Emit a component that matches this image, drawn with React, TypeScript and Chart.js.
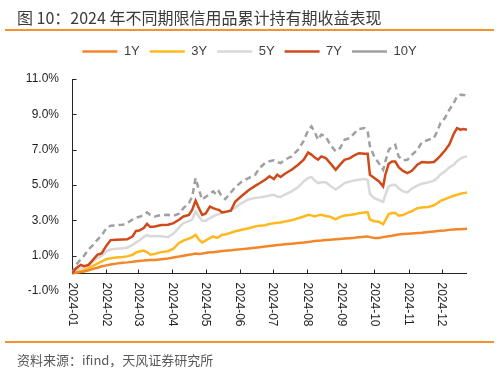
import React, { useEffect, useRef } from "react";
import { Chart, registerables } from "chart.js";

Chart.register(...registerables);

// Day offsets from 2024-01-01
const days = [
  0, 4, 8, 11, 15, 19, 23, 27, 31, 35,
  40, 46, 50, 55, 58, 61, 65, 68, 71, 75,
  81, 87, 92, 97, 101, 106, 109, 112, 115, 118,
  121, 125, 128, 131, 133, 136, 139, 144, 148, 154,
  160, 166, 170, 175, 179, 183, 186, 189, 193, 199,
  205, 210, 214, 217, 220, 223, 226, 230, 234, 239,
  243, 247, 252, 256, 260, 265, 268, 270, 274, 278,
  282, 284, 287, 290, 293, 296, 300, 304, 308, 313,
  317, 323, 328, 331, 334, 338, 342, 346, 349, 352,
  355, 358,
];

const y1 = [
  0, 0.04, 0.08, 0.1, 0.17, 0.25, 0.32, 0.4, 0.45, 0.5,
  0.55, 0.6, 0.62, 0.66, 0.68, 0.7, 0.72, 0.74, 0.75, 0.76,
  0.8, 0.84, 0.9, 0.95, 1.0, 1.05, 1.08, 1.12, 1.1, 1.12,
  1.15, 1.19, 1.2, 1.22, 1.24, 1.26, 1.28, 1.3, 1.33, 1.37,
  1.41, 1.45, 1.48, 1.52, 1.55, 1.58, 1.6, 1.62, 1.65, 1.68,
  1.72, 1.75, 1.78, 1.8, 1.83, 1.85, 1.86, 1.88, 1.9, 1.93,
  1.95, 1.97, 1.99, 2.01, 2.04, 2.07, 2.09, 2.05, 2.0, 2.0,
  2.05, 2.07, 2.1, 2.13, 2.17, 2.2, 2.22, 2.24, 2.26, 2.28,
  2.3, 2.34, 2.37, 2.39, 2.41, 2.43, 2.46, 2.48, 2.49, 2.5,
  2.51, 2.52,
];

const y3 = [
  0, 0.05, 0.12, 0.18, 0.3, 0.42, 0.55, 0.67, 0.8, 0.85,
  0.9, 0.93, 0.96, 1.05, 1.18, 1.24, 1.29, 1.2, 1.05, 1.1,
  1.2, 1.25, 1.4, 1.72, 1.85, 1.97, 2.05, 2.18, 1.9, 1.75,
  1.85, 2.0, 2.09, 2.0, 2.05, 2.18, 2.2, 2.3, 2.38, 2.47,
  2.55, 2.65, 2.7, 2.72, 2.8, 2.84, 2.86, 2.88, 2.93, 3.0,
  3.12, 3.22, 3.31, 3.28, 3.22, 3.28, 3.31, 3.25, 3.2, 3.06,
  3.2, 3.27, 3.3, 3.35, 3.4, 3.44, 3.45, 3.05, 2.95, 2.92,
  2.78, 3.0, 3.35, 3.41, 3.41, 3.26, 3.3, 3.42, 3.52, 3.69,
  3.72, 3.76, 3.85, 3.97, 4.1, 4.2, 4.3, 4.39, 4.45, 4.5,
  4.54, 4.58,
];

const y5 = [
  0, 0.15, 0.3, 0.35, 0.48, 0.65, 0.86, 1.0, 1.25, 1.35,
  1.39, 1.42, 1.45, 1.61, 1.75, 1.86, 2.05, 2.18, 2.09, 2.12,
  2.1, 2.05, 2.25, 2.6, 2.84, 2.95, 3.05, 3.5, 3.22, 2.98,
  2.98, 3.12, 3.22, 3.31, 3.35, 3.41, 3.45, 3.58, 3.72, 3.98,
  4.18, 4.27, 4.3, 4.35, 4.4, 4.45, 4.35, 4.32, 4.45, 4.64,
  4.88, 5.2, 5.4, 5.45, 5.25, 5.11, 5.15, 5.15, 4.96, 4.75,
  4.92, 5.11, 5.2, 5.26, 5.3, 5.34, 5.3, 4.5, 4.26, 4.15,
  4.05, 4.45, 4.92, 5.0, 5.01, 4.82, 4.64, 4.58, 4.8, 4.96,
  5.07, 5.15, 5.25, 5.39, 5.6, 5.77, 6.0, 6.14, 6.35, 6.5,
  6.58, 6.62,
];

const y7 = [
  0, 0.3, 0.48, 0.4, 0.48, 0.76, 1.05, 1.14, 1.55, 1.88,
  1.9, 1.92, 1.93, 2.1, 2.4, 2.42, 2.56, 2.8, 2.62, 2.65,
  2.73, 2.75, 2.84, 3.03, 3.22, 3.31, 3.6, 4.12, 3.69, 3.31,
  3.38, 3.78, 3.69, 3.62, 3.6, 3.45, 3.48, 3.55, 4.07, 4.39,
  4.7, 4.95, 5.1, 5.3, 5.5, 5.34, 5.58, 5.45, 5.64, 5.86,
  6.15, 6.43, 6.84, 6.72, 6.55, 6.43, 6.62, 6.52, 6.24, 5.86,
  6.15, 6.43, 6.52, 6.68, 6.8, 6.77, 6.77, 5.58, 5.4, 5.21,
  4.92, 5.58, 6.2, 6.33, 6.33, 6.01, 5.8, 5.67, 5.8, 6.15,
  6.3, 6.28, 6.3, 6.47, 6.66, 6.95, 7.3, 7.9, 8.22, 8.13,
  8.17, 8.13,
];

const y10 = [
  0, 0.5, 0.8, 1.0, 1.35, 1.6, 1.9, 2.15, 2.55, 2.7,
  2.72, 2.75, 2.85, 3.05, 3.15, 3.2, 3.3, 3.45, 3.3, 3.22,
  3.3, 3.31, 3.26, 3.37, 3.69, 3.98, 4.35, 5.39, 4.73, 4.17,
  4.32, 4.5, 4.64, 4.45, 4.64, 4.32, 4.2, 4.58, 4.88, 5.2,
  5.39, 5.58, 5.96, 6.24, 6.35, 6.4, 6.3, 6.24, 6.43, 6.62,
  7.0, 7.5, 8.1, 8.32, 8.0, 7.56, 7.85, 7.75, 7.28, 6.9,
  7.09, 7.56, 7.66, 7.94, 8.17, 8.22, 8.05, 7.2, 6.6, 6.24,
  5.86, 6.33, 6.99, 7.18, 7.28, 6.62, 6.39, 6.43, 6.71, 6.99,
  7.41, 7.56, 7.66, 8.03, 8.51, 8.79, 9.26, 9.64, 10.02, 10.11,
  10.1, 10.05,
];

const seriesNames = ["1Y", "3Y", "5Y", "7Y", "10Y"];
const seriesValues = [y1, y3, y5, y7, y10];
const seriesColors = ["#F4862A", "#FFB81E", "#D9D9D9", "#CF4A1A", "#A0A0A0"];

const monthTickDays = [0, 31, 60, 91, 121, 152, 182, 213, 244, 274, 305, 335];
const monthTickLabels = [
  "2024-01", "2024-02", "2024-03", "2024-04", "2024-05", "2024-06",
  "2024-07", "2024-08", "2024-09", "2024-10", "2024-11", "2024-12",
];

const yMin = -1;
const yMax = 11;
const yStep = 2;

const TITLE = "图 10：2024 年不同期限信用品累计持有期收益表现";
const SOURCE = "资料来源：ifind，天风证券研究所";

const LATIN = "'Liberation Sans', Arial, sans-serif";
const CJK = "'Noto Sans CJK SC', 'Liberation Sans', sans-serif";

const axisPlugin = {
  id: "customAxes",
  beforeInit(chart: any) {
    const legend = chart.legend;
    if (legend) {
      const origFit = legend.fit;
      legend.fit = function () {
        origFit.call(this);
        this.height += 11;
      };
    }
  },
  beforeDatasetsDraw(chart: any) {
    const { ctx, chartArea, scales } = chart;
    const xs = scales.x;
    const ys = scales.y;
    const y0 = Math.round(ys.getPixelForValue(0)) + 0.5;
    const left = Math.round(chartArea.left) + 0.5;
    ctx.save();
    ctx.strokeStyle = "#262626";
    ctx.lineWidth = 1;
    ctx.beginPath();
    ctx.moveTo(left, chartArea.top);
    ctx.lineTo(left, y0);
    ctx.moveTo(chartArea.left, y0);
    ctx.lineTo(chartArea.right, y0);
    ys.ticks.forEach((t: any) => {
      if (t.value < 0) return;
      const py = Math.round(ys.getPixelForValue(t.value)) + 0.5;
      ctx.moveTo(left, py);
      ctx.lineTo(left + 4, py);
    });
    monthTickDays.forEach((d) => {
      const px = Math.round(xs.getPixelForValue(d)) + 0.5;
      ctx.moveTo(px, y0);
      ctx.lineTo(px, y0 - 4);
    });
    ctx.stroke();

    ctx.fillStyle = "#1f1f1f";
    ctx.font = `12px ${LATIN}`;
    ctx.textAlign = "left";
    ctx.textBaseline = "middle";
    monthTickDays.forEach((d, i) => {
      const px = xs.getPixelForValue(d);
      ctx.save();
      ctx.translate(px, y0 + 9);
      ctx.rotate(Math.PI / 2);
      ctx.fillText(monthTickLabels[i], 0, 0);
      ctx.restore();
    });
    ctx.restore();
  },
};

export default function App() {
  const canvasRef = useRef<HTMLCanvasElement | null>(null);

  useEffect(() => {
    const canvas = canvasRef.current;
    if (!canvas) return;
    const datasets = seriesNames.map((name, si) => ({
      label: name,
      data: days.map((d, i) => ({ x: d, y: seriesValues[si][i] })),
      borderColor: seriesColors[si],
      backgroundColor: seriesColors[si],
      borderWidth: 2.5,
      borderDash: name === "10Y" ? [6, 4] : [],
      pointRadius: 0,
      tension: 0,
      fill: false,
      order: name === "10Y" ? 5 : name === "7Y" ? 1 : name === "5Y" ? 4 : name === "3Y" ? 3 : 2,
    }));

    const chart = new Chart(canvas, {
      type: "line",
      data: { datasets },
      options: {
        responsive: false,
        animation: false,
        layout: { padding: { left: 0, right: 0, top: 35, bottom: 81 } },
        plugins: {
          legend: {
            display: true,
            position: "top",
            labels: {
              usePointStyle: true,
              pointStyle: "line",
              pointStyleWidth: 35,
              padding: 10,
              color: "#404040",
              font: { family: LATIN, size: 13 },
              sort: (a: any, b: any) => a.datasetIndex - b.datasetIndex,
            },
          },
          tooltip: { enabled: false },
        },
        scales: {
          x: {
            type: "linear",
            display: false,
            min: 0,
            max: 358,
          },
          y: {
            type: "linear",
            position: "left",
            min: yMin,
            max: yMax,
            grid: { display: false, drawTicks: false },
            border: { display: false },
            ticks: {
              stepSize: yStep,
              padding: 13,
              color: "#1f1f1f",
              font: { family: LATIN, size: 12 },
              callback: (v: any) => Number(v).toFixed(1) + "%",
            },
            afterFit: (s: any) => {
              s.width = 72;
            },
          },
          yR: {
            type: "linear",
            position: "right",
            display: true,
            grid: { display: false, drawTicks: false },
            border: { display: false },
            ticks: { display: false },
            afterFit: (s: any) => {
              s.width = 32;
            },
          },
        },
      },
      plugins: [axisPlugin],
    } as any);

    return () => {
      chart.destroy();
    };
  }, []);

  return (
    <div
      style={{
        position: "absolute",
        left: 0,
        top: 0,
        width: 499,
        height: 372,
        background: "#ffffff",
        overflow: "hidden",
      }}
    >
      <canvas
        ref={canvasRef}
        width={499}
        height={372}
        style={{ position: "absolute", left: 0, top: 0, width: 499, height: 372 }}
      />
      <div
        style={{
          position: "absolute",
          left: 17,
          top: 6,
          fontFamily: CJK,
          fontSize: 16,
          fontWeight: 400,
          color: "#3a3a3a",
          lineHeight: "22px",
          whiteSpace: "nowrap",
        }}
      >
        {TITLE}
      </div>
      <div
        style={{
          position: "absolute",
          left: 5,
          top: 29,
          width: 489,
          height: 2,
          background: "#F5922F",
        }}
      />
      <div
        style={{
          position: "absolute",
          left: 5,
          top: 341,
          width: 489,
          height: 2,
          background: "#F5922F",
        }}
      />
      <div
        style={{
          position: "absolute",
          left: 17,
          top: 350,
          fontFamily: CJK,
          fontSize: 13,
          color: "#595959",
          lineHeight: "20px",
          whiteSpace: "nowrap",
        }}
      >
        {SOURCE}
      </div>
    </div>
  );
}
